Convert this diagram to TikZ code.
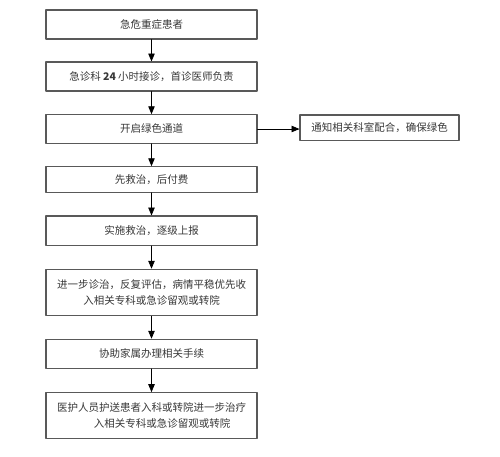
\documentclass[tikz,border=0pt]{standalone}
\usepackage{fontspec}
\newfontfamily\cjk{Noto Sans CJK SC}
\usetikzlibrary{arrows}

\begin{document}
\begin{tikzpicture}[line cap=round,line join=round,>=triangle 45,x=1pt,y=-1pt,
  stepbox/.style={draw=lineg,line width=1.2pt,fill=white,minimum width=211pt,text=textg,
    font=\cjk\fontsize{10.5}{16}\selectfont,align=center,inner sep=0pt},
  flow/.style={->,draw=black,line width=0.8pt}]
\definecolor{lineg}{rgb}{0.35,0.35,0.35}
\definecolor{textg}{rgb}{0.22,0.22,0.22}
\useasboundingbox (0,0) rectangle (500,457);
\node[stepbox,minimum height=29pt] (patient) at (151.5,24.5) {急危重症患者};
\node[stepbox,minimum height=29pt] (desk) at (151.5,76.5) {急诊科 {\bfseries 24} 小时接诊，首诊医师负责};
\node[stepbox,minimum height=28.5pt] (green) at (151.5,129) {开启绿色通道};
\node[stepbox,minimum height=25.5pt] (treat) at (151.5,179.5) {先救治，后付费};
\node[stepbox,minimum height=29.3pt] (report) at (151.5,230.7) {实施救治，逐级上报};
\node[stepbox,minimum height=46.4pt] (assess) at (151.5,292.5) {进一步诊治，反复评估，病情平稳优先收\\入相关专科或急诊留观或转院};
\node[stepbox,minimum height=29pt] (family) at (151.5,353.8) {协助家属办理相关手续};
\node[stepbox,minimum height=46pt] (escort) at (151.5,415.7) {医护人员护送患者入科或转院进一步治疗\\\hspace*{2em}入相关专科或急诊留观或转院};
\node[stepbox,minimum width=159pt,minimum height=25.7pt] (notify) at (379.5,127.8) {通知相关科室配合，确保绿色};
% main chain
\draw[flow] (patient) -- (desk);
\draw[flow] (desk) -- (green);
\draw[flow] (green) -- (treat);
\draw[flow] (treat) -- (report);
\draw[flow] (report) -- (assess);
\draw[flow] (assess) -- (family);
\draw[flow] (family) -- (escort);
\draw[flow] (green.east) -- (green.east -| notify.west);
\end{tikzpicture}
\end{document}
